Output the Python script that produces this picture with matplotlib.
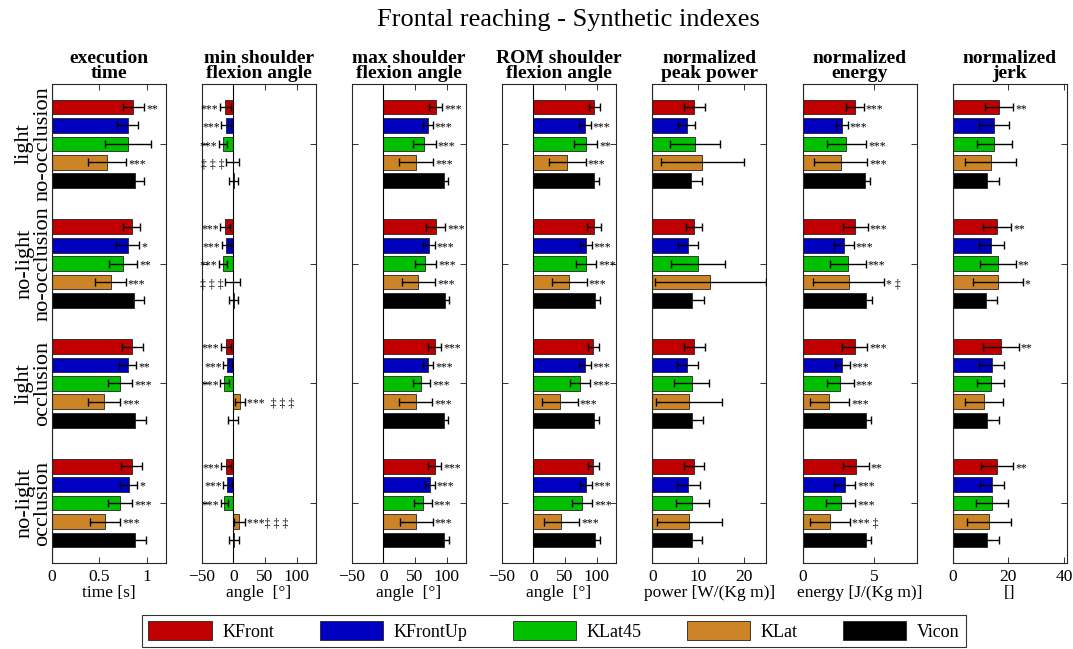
import matplotlib.pyplot as plt
from matplotlib.patches import Patch
import numpy as np

plt.rcParams['font.family'] = ['Liberation Serif', 'DejaVu Serif']

groups = ['light\nno-occlusion', 'no-light\nno-occlusion', 'light\nocclusion', 'no-light\nocclusion']
series = ['KFront', 'KFrontUp', 'KLat45', 'KLat', 'Vicon']
colors = ['#c00000', '#0000c0', '#00c000', '#cc8426', '#000000']

# rows = conditions, columns = KFront, KFrontUp, KLat45, KLat, Vicon
time_mean = [[0.86, 0.80, 0.80, 0.585, 0.88],
             [0.84, 0.80, 0.75, 0.62, 0.87],
             [0.85, 0.80, 0.72, 0.55, 0.88],
             [0.84, 0.81, 0.72, 0.56, 0.88]]
time_err = [[0.11, 0.11, 0.24, 0.20, 0.095],
            [0.09, 0.12, 0.15, 0.16, 0.10],
            [0.11, 0.09, 0.13, 0.17, 0.11],
            [0.115, 0.09, 0.13, 0.16, 0.11]]
time_sig = [['**', '', '', '***', ''],
            ['', '*', '**', '***', ''],
            ['', '**', '***', '***', ''],
            ['', '*', '***', '***', '']]

minang_mean = [[-13, -11.5, -16.8, -1.3, 0.8],
               [-13, -11.5, -16.8, -1.3, 0.8],
               [-12, -9.5, -14.2, 10.5, -0.5],
               [-12, -9.5, -14.2, 9.5, 1.3]]
minang_err = [[8.5, 8, 6.6, 10.7, 7],
              [7.5, 7, 6, 11.7, 7],
              [8, 6.6, 6.6, 8.5, 8.4],
              [7.5, 6.6, 5.5, 8.7, 7.6]]
minang_sig = [['***', '***', '***', '‡ ‡ ‡', ''],
              ['***', '***', '***', '‡ ‡ ‡', ''],
              ['***', '***', '***', '***  ‡ ‡ ‡', ''],
              ['***', '***', '***', '***‡ ‡ ‡', '']]

maxang_mean = [[82.7, 70, 64.7, 51.6, 95.3],
               [82.7, 72, 66.3, 55.3, 97],
               [81, 71, 60, 51, 95],
               [81, 73, 62, 52, 96]]
maxang_err = [[10, 8, 18, 27, 7],
              [15, 9, 17, 26, 7],
              [10, 8, 14, 26, 7],
              [10, 8, 14, 26, 7]]
maxang_sig = [['***', '***', '***', '***', ''],
              ['***', '***', '***', '***', ''],
              ['***', '***', '***', '***', ''],
              ['***', '***', '***', '***', '']]

romang_mean = [[96.3, 81.6, 82.7, 53.7, 95.8],
               [96.3, 83, 83, 56.8, 97],
               [94.6, 81.6, 73.7, 42, 95.8],
               [94.6, 83, 77, 44, 97]]
romang_err = [[8.7, 9, 18, 29, 8],
              [11, 9, 16, 27.5, 8],
              [9, 9, 16, 28, 8],
              [9, 9, 16, 28, 8]]
romang_sig = [['', '***', '**', '***', ''],
              ['', '***', '***', '***', ''],
              ['', '***', '***', '***', ''],
              ['', '***', '***', '***', '']]

power_mean = [[9.2, 7.5, 9.4, 11.0, 8.4],
              [9.1, 7.9, 10.1, 12.75, 8.8],
              [9.2, 7.7, 8.6, 8.1, 8.8],
              [9.2, 7.9, 8.8, 8.1, 8.7]]
power_err = [[2.35, 1.9, 5.5, 9.0, 2.4],
             [1.75, 2.2, 5.9, 12.1, 2.5],
             [2.35, 2.35, 3.9, 7.2, 2.3],
             [2.15, 2.5, 3.55, 7.1, 2.2]]
power_sig = [['', '', '', '', ''],
             ['', '', '', '', ''],
             ['', '', '', '', ''],
             ['', '', '', '', '']]

energy_mean = [[3.65, 2.74, 3.07, 2.67, 4.35],
               [3.7, 2.88, 3.16, 3.23, 4.42],
               [3.65, 2.77, 2.65, 1.86, 4.47],
               [3.72, 2.95, 2.67, 1.9, 4.42]]
energy_err = [[0.63, 0.41, 1.37, 1.87, 0.35],
              [0.86, 0.69, 1.25, 2.5, 0.46],
              [0.87, 0.53, 0.93, 1.38, 0.35],
              [0.92, 0.75, 1.0, 1.4, 0.4]]
energy_sig = [['***', '***', '***', '***', ''],
              ['***', '***', '***', '* ‡', ''],
              ['***', '***', '***', '***', ''],
              ['**', '***', '***', '*** ‡', '']]

jerk_mean = [[16.7, 14.7, 15.0, 13.7, 12.5],
             [15.9, 13.95, 16.3, 16.3, 12.0],
             [17.3, 14.1, 13.7, 11.3, 12.3],
             [16.1, 14.2, 14.2, 13.0, 12.3]]
jerk_err = [[4.95, 5.4, 6.2, 9.2, 4.2],
            [5.1, 4.5, 6.35, 8.9, 4.1],
            [6.45, 4.5, 4.8, 6.95, 4.4],
            [5.75, 4.3, 5.8, 7.95, 4.2]]
jerk_sig = [['**', '', '', '', ''],
            ['**', '', '**', '*', ''],
            ['**', '', '', '', ''],
            ['**', '', '', '', '']]

panels = [
    ('execution\ntime', 'time [s]', time_mean, time_err, time_sig, (0, 1.2), [0, 0.5, 1], ['0', '0.5', '1']),
    ('min shoulder\nflexion angle', 'angle  [°]', minang_mean, minang_err, minang_sig, (-50, 130), [-50, 0, 50, 100], None),
    ('max shoulder\nflexion angle', 'angle  [°]', maxang_mean, maxang_err, maxang_sig, (-50, 130), [-50, 0, 50, 100], None),
    ('ROM shoulder\nflexion angle', 'angle  [°]', romang_mean, romang_err, romang_sig, (-50, 130), [-50, 0, 50, 100], None),
    ('normalized\npeak power', 'power [W/(Kg m)]', power_mean, power_err, power_sig, (0, 25), [0, 10, 20], None),
    ('normalized\nenergy', 'energy [J/(Kg m)]', energy_mean, energy_err, energy_sig, (0, 8), [0, 5], None),
    ('normalized\njerk', '[]', jerk_mean, jerk_err, jerk_sig, (0, 41), [0, 20, 40], None),
]

W, H = 1073, 649
fig = plt.figure(figsize=(W / 100, H / 100), dpi=100)
lefts = [51.7, 201.7, 351.7, 501.7, 652.3, 802.7, 952.7]

step = 0.1538
ypos = np.arange(1, 5)
for k, (title, xlabel, mean, err, sig, xlim, xt, xtl) in enumerate(panels):
    ax = fig.add_axes([lefts[k] / W, (H - 563) / H, 114 / W, 479 / H])
    mean = np.array(mean)
    err = np.array(err)
    for i in range(5):
        y = ypos + (i - 2) * step
        ax.barh(y, mean[:, i], height=step * 0.8, color=colors[i],
                edgecolor='#222222', linewidth=0.6, zorder=2)
        ax.errorbar(mean[:, i], y, xerr=err[:, i], fmt='none', ecolor='black',
                    elinewidth=1.0, capsize=2.6, capthick=1.0, zorder=3)
        for g in range(4):
            s = sig[g][i]
            if not s:
                continue
            v = mean[g, i]
            if v < 0:
                ax.annotate(s, (v - err[g, i], y[g]), xytext=(-1, -1.5),
                            textcoords='offset points', ha='right', va='center', fontsize=8.5, zorder=4)
            else:
                ax.annotate(s, (v + err[g, i], y[g]), xytext=(1.5, -1.5),
                            textcoords='offset points', ha='left', va='center', fontsize=8.5, zorder=4)
    ax.axvline(0, color='black', linewidth=0.8, zorder=2.5)
    ax.set_xlim(*xlim)
    ax.set_ylim(4.5, 0.5)
    ax.tick_params(direction='in', length=4, width=0.7, color='#333333',
                   top=True, right=True)
    ax.tick_params(axis='x', pad=4, labelsize=12.5)
    ax.set_xticks(xt)
    if xtl is not None:
        ax.set_xticklabels(xtl)
    ax.set_yticks(ypos)
    if k == 0:
        ax.set_yticklabels(groups, rotation=90, va='center', ha='center',
                           fontsize=16, linespacing=0.95)
        ax.tick_params(axis='y', pad=13)
    else:
        ax.set_yticklabels([])
    for sp in ax.spines.values():
        sp.set_color('#262626')
        sp.set_linewidth(0.8)
    ax.set_title(title, fontsize=14, fontweight='bold', linespacing=0.85, pad=4)
    ax.set_xlabel(xlabel, fontsize=12.5, labelpad=0)

fig.text(0.530, 1 - 20 / H, 'Frontal reaching - Synthetic indexes', fontsize=19,
         ha='center', va='center')

handles = [Patch(facecolor=c, edgecolor='#222222', linewidth=0.6) for c in colors]
leg = fig.legend(handles, series, loc='center', bbox_to_anchor=(554 / W, 1 - 631 / H),
                 ncol=5, fontsize=13, frameon=True, fancybox=False, edgecolor='black',
                 handlelength=3.5, handleheight=1.2, handletextpad=0.6,
                 columnspacing=2.5, borderpad=0.35)
leg.get_frame().set_linewidth(0.8)

plt.savefig('out.png', dpi=100)
